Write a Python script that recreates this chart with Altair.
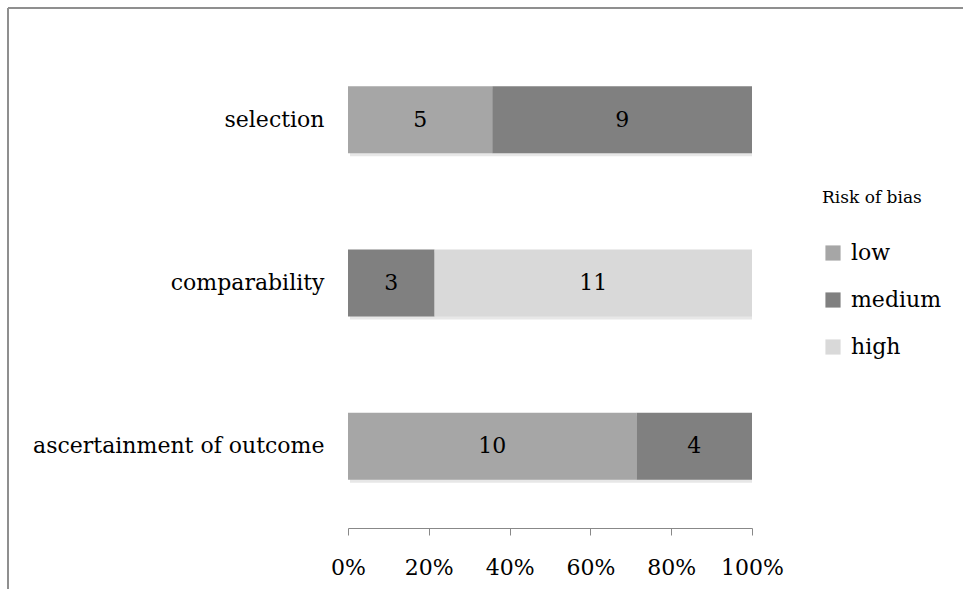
import altair as alt
import pandas as pd

# Risk-of-bias assessment per domain (number of studies)
domains = ["selection", "comparability", "ascertainment of outcome"]
levels = ["low", "medium", "high"]
low = [5, 0, 10]
medium = [9, 3, 4]
high = [0, 11, 0]
colors = ["#a6a6a6", "#808080", "#d9d9d9"]

rows = []
for i, d in enumerate(domains):
    for j, (lvl, vals) in enumerate(zip(levels, [low, medium, high])):
        rows.append({"domain": d, "level": lvl, "order": j, "count": vals[i]})
df = pd.DataFrame(rows)

FONT = "DejaVu Serif"

y_enc = alt.Y(
    "domain:N",
    sort=domains,
    scale=alt.Scale(paddingInner=0.59, paddingOuter=0.295),
    axis=alt.Axis(
        title=None, domain=False, ticks=False, labelPadding=24, labelLimit=0,
        labelFontSize=22, labelFont=FONT, labelColor="black",
    ),
)

base = alt.Chart(df).transform_stack(
    stack="count",
    groupby=["domain"],
    as_=["x0", "x1"],
    offset="normalize",
    sort=[alt.SortField("order", order="ascending")],
).transform_calculate(mid="(datum.x0 + datum.x1) / 2")

# soft drop shadow under each full bar
shadow = alt.Chart(pd.DataFrame({"domain": domains, "a": [0] * 3, "b": [1] * 3})).mark_bar(
    color="#cfcfcf", opacity=0.5, xOffset=2, yOffset=3
).encode(
    x=alt.X("a:Q"), x2="b:Q", y=y_enc,
)

bars = base.mark_bar().encode(
    x=alt.X(
        "x0:Q",
        scale=alt.Scale(domain=[0, 1], nice=False),
        axis=alt.Axis(
            title=None, format=".0%", values=[0, 0.2, 0.4, 0.6, 0.8, 1.0],
            grid=False, domainColor="#888888", tickColor="#888888", tickSize=7,
            labelFontSize=22, labelFont=FONT, labelColor="black", labelPadding=22,
            labelFlush=False,
        ),
    ),
    x2="x1:Q",
    y=y_enc,
    color=alt.Color(
        "level:N",
        scale=alt.Scale(domain=levels, range=colors),
        sort=levels,
        legend=alt.Legend(
            title="Risk of bias", orient="none", legendX=474, legendY=152,
            titleFont=FONT, titleFontSize=17, titleFontWeight="normal", titleColor="black",
            titlePadding=35,
            labelFont=FONT, labelFontSize=22, labelColor="black",
            symbolType="square", symbolSize=230, symbolStrokeWidth=0,
            rowPadding=25, labelOffset=7,
        ),
    ),
)

labels = base.transform_filter("datum.count > 0").mark_text(
    font=FONT, fontSize=22, color="black", baseline="middle"
).encode(
    x=alt.X("mid:Q"),
    y=alt.Y("domain:N", sort=domains),
    text="count:Q",
)

# outer frame line along top and left edges
frame_top = alt.Chart(pd.DataFrame({"k": [0]})).mark_rule(color="#8f8f8f", strokeWidth=2).encode(
    x=alt.value(-340), x2=alt.value(700), y=alt.value(-30)
)
frame_left = alt.Chart(pd.DataFrame({"k": [0]})).mark_rule(color="#8f8f8f", strokeWidth=2).encode(
    x=alt.value(-340), y=alt.value(-30), y2=alt.value(700)
)

chart = alt.layer(shadow, bars, labels, frame_top, frame_left).properties(
    width=404, height=490,
    padding={"left": 348, "top": 38, "right": 211, "bottom": 61},
    autosize=alt.AutoSizeParams(type="none"),
    background="white",
).configure_view(stroke=None)

chart.save("out.html", embed_options={"renderer": "svg", "actions": False})
